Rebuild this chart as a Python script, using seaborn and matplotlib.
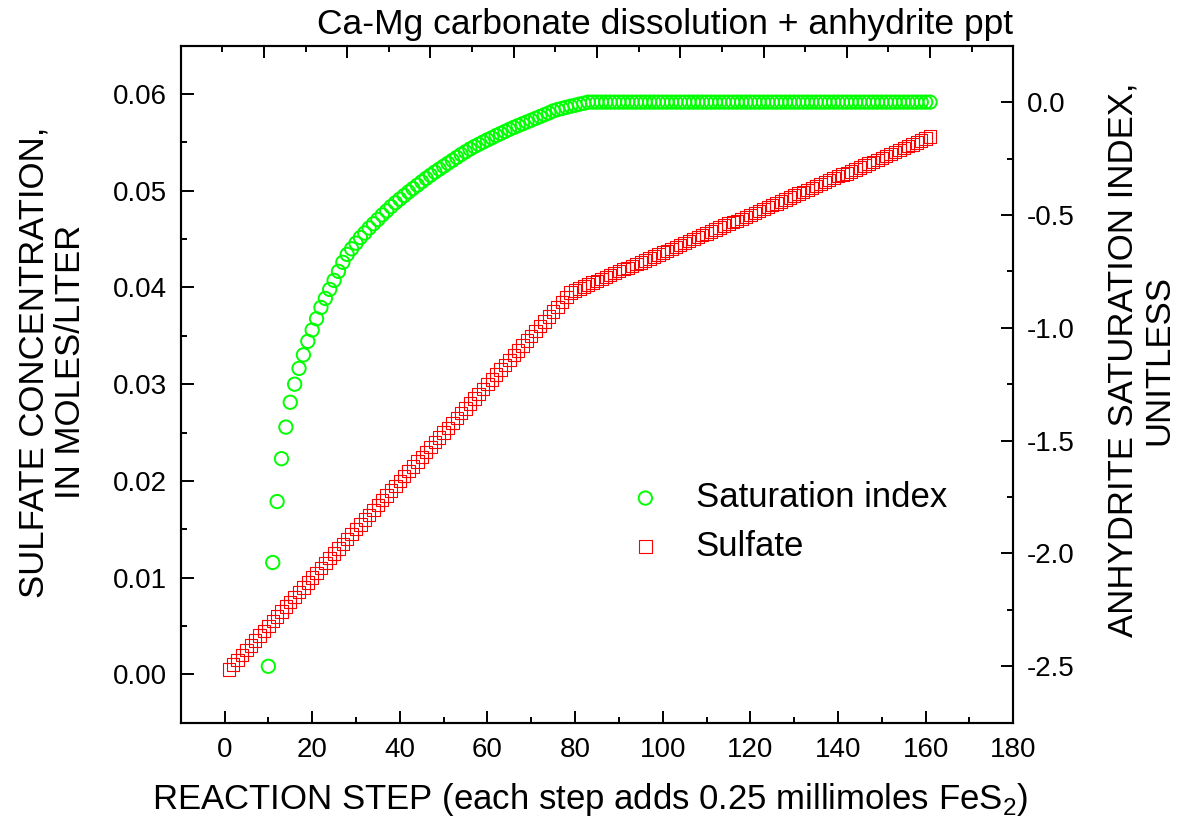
import matplotlib
matplotlib.use('Agg')
import matplotlib.pyplot as plt
import matplotlib.font_manager as fm
import seaborn as sns
from matplotlib.ticker import MultipleLocator, FormatStrFormatter

# --- data ---
sulfate_steps = list(range(1, 162))
sulfate = [
    0.0005, 0.0010, 0.0015, 0.0020, 0.0025, 0.0030, 0.0035, 0.0040, 0.0045, 0.0050,
    0.0055, 0.0060, 0.0065, 0.0070, 0.0075, 0.0080, 0.0085, 0.0090, 0.0095, 0.0100,
    0.0105, 0.0110, 0.0115, 0.0120, 0.0125, 0.0130, 0.0135, 0.0140, 0.0145, 0.0150,
    0.0155, 0.0160, 0.0165, 0.0170, 0.0175, 0.0180, 0.0185, 0.0190, 0.0195, 0.0200,
    0.0205, 0.0210, 0.0215, 0.0220, 0.0225, 0.0230, 0.0235, 0.0240, 0.0245, 0.0250,
    0.0255, 0.0260, 0.0265, 0.0270, 0.0275, 0.0280, 0.0285, 0.0290, 0.0295, 0.0300,
    0.0305, 0.0310, 0.0315, 0.0320, 0.0325, 0.0330, 0.0335, 0.0340, 0.0345, 0.0350,
    0.0355, 0.0360, 0.0365, 0.0370, 0.0375, 0.0380, 0.0385, 0.0390, 0.0395, 0.0397,
    0.0399, 0.0401, 0.0403, 0.0405, 0.0407, 0.0409, 0.0411, 0.0413, 0.0415, 0.0417,
    0.0419, 0.0420, 0.0422, 0.0424, 0.0426, 0.0428, 0.0430, 0.0432, 0.0434, 0.0436,
    0.0438, 0.0440, 0.0442, 0.0444, 0.0446, 0.0448, 0.0450, 0.0452, 0.0454, 0.0456,
    0.0458, 0.0460, 0.0462, 0.0464, 0.0466, 0.0468, 0.0469, 0.0471, 0.0473, 0.0475,
    0.0477, 0.0479, 0.0481, 0.0483, 0.0485, 0.0487, 0.0489, 0.0491, 0.0493, 0.0495,
    0.0497, 0.0499, 0.0501, 0.0503, 0.0505, 0.0507, 0.0509, 0.0511, 0.0513, 0.0515,
    0.0517, 0.0518, 0.0520, 0.0522, 0.0524, 0.0526, 0.0528, 0.0530, 0.0532, 0.0534,
    0.0536, 0.0538, 0.0540, 0.0542, 0.0544, 0.0546, 0.0548, 0.0550, 0.0552, 0.0554,
    0.0556,
]

si_steps = list(range(10, 162))
sat_index = [
    -2.50, -2.04, -1.77, -1.58, -1.44, -1.33, -1.25, -1.18, -1.12, -1.06,
    -1.01, -0.96, -0.91, -0.87, -0.83, -0.79, -0.75, -0.71, -0.675, -0.65,
    -0.625, -0.60, -0.58, -0.558, -0.539, -0.52, -0.50, -0.482, -0.463, -0.446,
    -0.430, -0.414, -0.398, -0.383, -0.368, -0.353, -0.338, -0.324, -0.310, -0.297,
    -0.284, -0.271, -0.258, -0.245, -0.232, -0.220, -0.208, -0.197, -0.187, -0.177,
    -0.167, -0.158, -0.148, -0.139, -0.130, -0.121, -0.112, -0.104, -0.096, -0.088,
    -0.080, -0.072, -0.064, -0.056, -0.048, -0.039, -0.033, -0.028, -0.023, -0.018,
    -0.014, -0.009, -0.005,
    0.0, 0.0, 0.0, 0.0, 0.0, 0.0, 0.0, 0.0, 0.0, 0.0,
    0.0, 0.0, 0.0, 0.0, 0.0, 0.0, 0.0, 0.0, 0.0, 0.0,
    0.0, 0.0, 0.0, 0.0, 0.0, 0.0, 0.0, 0.0, 0.0, 0.0,
    0.0, 0.0, 0.0, 0.0, 0.0, 0.0, 0.0, 0.0, 0.0, 0.0,
    0.0, 0.0, 0.0, 0.0, 0.0, 0.0, 0.0, 0.0, 0.0, 0.0,
    0.0, 0.0, 0.0, 0.0, 0.0, 0.0, 0.0, 0.0, 0.0, 0.0,
    0.0, 0.0, 0.0, 0.0, 0.0, 0.0, 0.0, 0.0, 0.0, 0.0,
    0.0, 0.0, 0.0, 0.0, 0.0, 0.0, 0.0, 0.0, 0.0,
]

title = 'Ca-Mg carbonate dissolution + anhydrite ppt'
xlabel = 'REACTION STEP (each step adds 0.25 millimoles FeS$_\\mathregular{2}$)'
ylabel_left = 'SULFATE CONCENTRATION,\nIN MOLES/LITER'
ylabel_right = 'ANHYDRITE SATURATION INDEX,\nUNITLESS'

GREEN = '#00ff00'
RED = '#ff0000'

sns.set_style('ticks')
plt.rcParams['font.family'] = ['Liberation Sans', 'DejaVu Sans']
plt.rcParams['axes.unicode_minus'] = False
plt.rcParams['mathtext.fontset'] = 'custom'
for key in ('text.color', 'axes.labelcolor', 'axes.edgecolor', 'xtick.color', 'ytick.color'):
    plt.rcParams[key] = 'black'

installed = {f.name for f in fm.fontManager.ttflist}
if 'Liberation Sans Narrow' in installed:
    label_font, label_size = 'Liberation Sans Narrow', 30
else:
    label_font, label_size = 'Liberation Sans', 25
plt.rcParams['mathtext.rm'] = label_font

W, H = 1178, 826
fig = plt.figure(figsize=(W / 100, H / 100), dpi=100)
ax_h = (722.7 - 45.7)
ax = fig.add_axes([180.7 / W, 1 - 722.7 / H, (1013.3 - 180.7) / W, ax_h / H])
ax2 = ax.twinx()

sns.scatterplot(x=sulfate_steps, y=sulfate, ax=ax, marker='s', s=80,
                facecolor='none', edgecolor=RED, linewidth=0.8, label='Sulfate', legend=False)
sns.scatterplot(x=si_steps, y=sat_index, ax=ax2, marker='o', s=92,
                facecolor='none', edgecolor=GREEN, linewidth=1.4, label='Saturation index', legend=False)

ax.set_xlim(-10, 180)
ax.set_ylim(-0.005, 0.065)
ax2.set_ylim(-2.75, 0.25)

ax.xaxis.set_major_locator(MultipleLocator(20))
ax.xaxis.set_minor_locator(MultipleLocator(10))
ax.yaxis.set_major_locator(MultipleLocator(0.01))
ax.yaxis.set_minor_locator(MultipleLocator(0.005))
ax.yaxis.set_major_formatter(FormatStrFormatter('%.2f'))
ax2.yaxis.set_major_locator(MultipleLocator(0.5))
ax2.yaxis.set_minor_locator(MultipleLocator(0.25))
ax2.yaxis.set_major_formatter(FormatStrFormatter('%.1f'))

for a in (ax, ax2):
    for sp in a.spines.values():
        sp.set_linewidth(1.5)
    a.set_xlabel('')
    a.set_ylabel('')

ax.tick_params(which='both', direction='in', width=1.4, labelsize=20, pad=10,
               top=False, right=False)
ax.tick_params(which='major', length=9)
ax.tick_params(which='minor', length=4.5)
ax2.tick_params(axis='y', which='both', direction='in', width=1.4, labelsize=20, pad=10)
ax2.tick_params(axis='y', which='major', length=9)
ax2.tick_params(axis='y', which='minor', length=4.5)

# top edge: its own tick spacing (tenths / twentieths of the frame), no labels,
# drawn on the upper twin as short inward strokes hanging from the top spine
top_major = MultipleLocator(0.1).tick_values(0, 1)
top_minor = MultipleLocator(0.05).tick_values(0, 1)
ax2.vlines([v for v in top_minor if 0 < v < 1], 1 - 6.2 / ax_h, 1, transform=ax2.transAxes,
           colors='black', linewidth=1.4, clip_on=False, zorder=10)
ax2.vlines([v for v in top_major if 0 < v < 1], 1 - 12.5 / ax_h, 1, transform=ax2.transAxes,
           colors='black', linewidth=1.4, clip_on=False, zorder=10)

fig.text(1013 / W, 1 - 34 / H, title, ha='right', va='baseline', fontsize=25.5)
fig.text(590 / W, 1 - 800 / H, xlabel, ha='center', va='center',
         fontsize=label_size, family=label_font)
fig.text(52 / W, 1 - 362 / H, ylabel_left, ha='center', va='center', rotation=90,
         multialignment='center', linespacing=1.12, fontsize=label_size, family=label_font)
fig.text(1141 / W, 1 - 360 / H, ylabel_right, ha='center', va='center', rotation=90,
         multialignment='center', linespacing=1.12, fontsize=label_size, family=label_font)

h1, l1 = ax2.get_legend_handles_labels()
h2, l2 = ax.get_legend_handles_labels()
ax2.legend(h1 + h2, l1 + l2, loc='center left', bbox_to_anchor=(628 / W, 1 - 522 / H),
           bbox_transform=fig.transFigure, frameon=False, fontsize=25,
           handlelength=1.0, handletextpad=0.95, labelspacing=0.45,
           borderpad=0, borderaxespad=0, scatterpoints=1)

fig.savefig('out.png', dpi=100)
